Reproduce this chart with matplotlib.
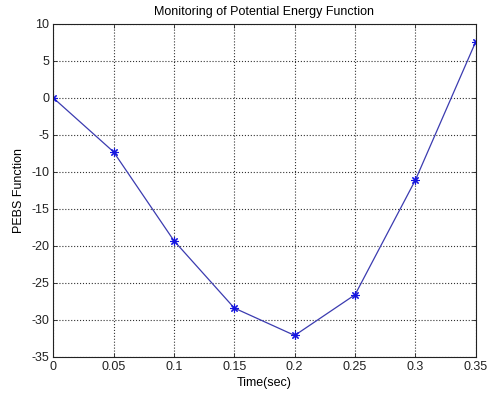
import matplotlib
matplotlib.use('Agg')
import matplotlib.pyplot as plt

# time samples and potential energy values
time_sec = [0, 0.05, 0.1, 0.15, 0.2, 0.25, 0.3, 0.35]
pebs = [0, -7.3, -19.3, -28.4, -32.1, -26.6, -11.1, 7.6]

x_ticks = [0, 0.05, 0.1, 0.15, 0.2, 0.25, 0.3, 0.35]
x_labels = ['0', '0.05', '0.1', '0.15', '0.2', '0.25', '0.3', '0.35']
y_ticks = [-35, -30, -25, -20, -15, -10, -5, 0, 5, 10]

plt.rcParams['font.family'] = ['Liberation Sans', 'DejaVu Sans']
plt.rcParams['font.size'] = 9
plt.rcParams['axes.unicode_minus'] = False

fig = plt.figure(figsize=(4.88, 3.97), dpi=100)
ax = fig.add_axes([0.109, 0.101, 0.866, 0.839])

ax.plot(time_sec, pebs, color='#3b3bb0', linewidth=0.9, marker=(8, 2, 0),
        markersize=6, markeredgewidth=0.8, markeredgecolor='#1515e0')

ax.set_xlim(0, 0.35)
ax.set_ylim(-35, 10)
ax.set_xticks(x_ticks)
ax.set_xticklabels(x_labels)
ax.set_yticks(y_ticks)
ax.tick_params(direction='in', length=3, width=0.6, colors='#222222',
               labelsize=9, pad=3, top=True, right=True,
               labeltop=False, labelright=False)
ax.grid(True, linestyle=':', color='#333333', linewidth=0.8)
for s in ax.spines.values():
    s.set_linewidth(0.8)
    s.set_color('#222222')

ax.set_xlabel('Time(sec)', fontsize=9, labelpad=3)
ax.set_ylabel('PEBS Function', fontsize=9, labelpad=4)
ax.set_title('Monitoring of Potential Energy Function', fontsize=9, pad=6)

fig.savefig('out.png', dpi=100, facecolor='white')
